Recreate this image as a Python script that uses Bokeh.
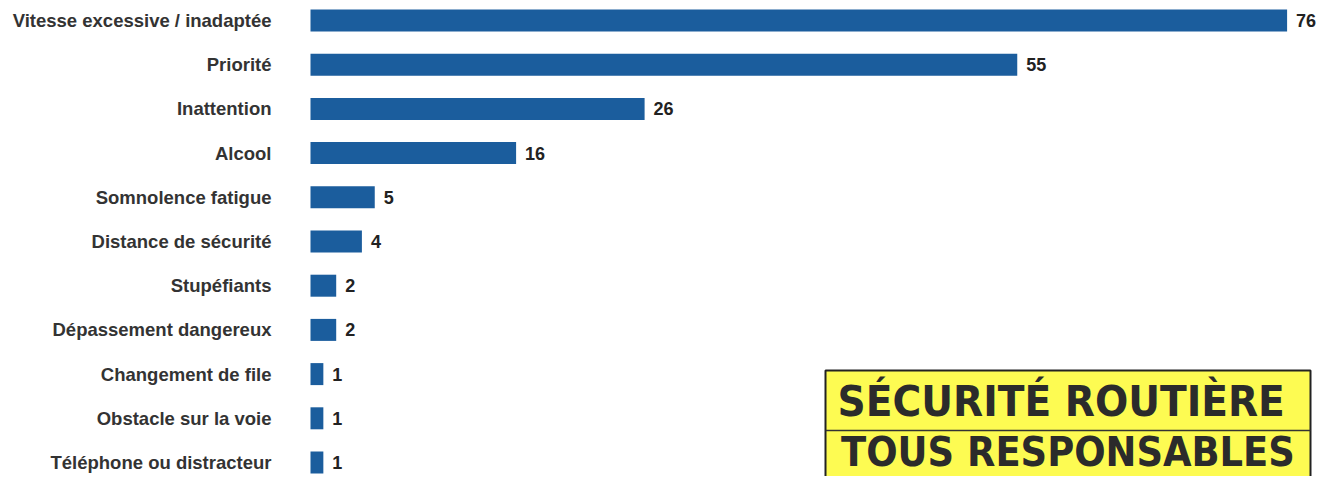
from bokeh.plotting import figure
from bokeh.models import Range1d, ColumnDataSource
from bokeh.core.properties import value
from bokeh.embed import file_html
from bokeh.resources import INLINE

categories = ["Vitesse excessive / inadaptée", "Priorité", "Inattention", "Alcool",
              "Somnolence fatigue", "Distance de sécurité", "Stupéfiants",
              "Dépassement dangereux", "Changement de file", "Obstacle sur la voie",
              "Téléphone ou distracteur"]
counts = [76, 55, 26, 16, 5, 4, 2, 2, 1, 1, 1]
banner_lines = ["SÉCURITÉ  ROUTIÈRE", "TOUS RESPONSABLES"]

W, H = 1316, 476
PX_PER_UNIT = 12.85
LEFT_PX = 310
ROW_PX = 44.2
TOP_PX = 20

x0 = -LEFT_PX / PX_PER_UNIT
x1 = (W - LEFT_PX) / PX_PER_UNIT
y_end = TOP_PX / ROW_PX
y_start = y_end - H / ROW_PX

ys = [-i for i in range(len(categories))]
src = ColumnDataSource(dict(cat=categories, val=counts, y=ys,
                            lbl=[str(v) for v in counts]))

p = figure(width=W, height=H, output_backend="svg", toolbar_location=None,
           x_range=Range1d(x0, x1), y_range=Range1d(y_start, y_end),
           min_border_left=0, min_border_right=0, min_border_top=0, min_border_bottom=0)
p.xaxis.visible = False
p.yaxis.visible = False
p.grid.visible = False
p.outline_line_color = None
p.background_fill_color = "white"
p.border_fill_color = "white"

p.hbar(y="y", left=0, right="val", height=22 / ROW_PX, source=src,
       fill_color="#1b5d9d", line_color=None)

p.text(x=0, y="y", text="cat", source=src, x_offset=-39, text_align="right",
       text_baseline="middle", text_font=value("Liberation Sans"), text_font_style="bold",
       text_font_size="18.5px", text_color="#333333")

p.text(x="val", y="y", text="lbl", source=src, x_offset=9, text_align="left",
       text_baseline="middle", text_font=value("Liberation Sans"), text_font_style="bold",
       text_font_size="18px", text_color="#222222")

# banner box (decoration)
def py_to_y(py):
    return y_end - py / ROW_PX

def px_to_x(px):
    return (px - LEFT_PX) / PX_PER_UNIT

bx_l, bx_r = px_to_x(825), px_to_x(1310)
by_t, by_m, by_b = py_to_y(370), py_to_y(430), py_to_y(490)
p.quad(left=[bx_l], right=[bx_r], top=[by_t], bottom=[by_b],
       fill_color="#fdfb52", line_color="#222222", line_width=2)
p.segment(x0=[bx_l], x1=[bx_r], y0=[by_m], y1=[by_m], line_color="#333333", line_width=1.5)

cx = (bx_l + bx_r) / 2
p.text(x=[cx], y=[py_to_y(400)], text=[banner_lines[0]],
       text_align="center", text_baseline="middle",
       text_font=value("DejaVu Sans Condensed"),
       text_font_style="bold", text_font_size="43.5px", text_color="#2b2b2b")
p.text(x=[cx], y=[py_to_y(451)], text=[banner_lines[1]],
       text_align="center", text_baseline="middle",
       text_font=value("DejaVu Sans Condensed"),
       text_font_style="bold", text_font_size="41px", text_color="#2b2b2b")

open("out.html", "w").write(file_html(p, INLINE))
